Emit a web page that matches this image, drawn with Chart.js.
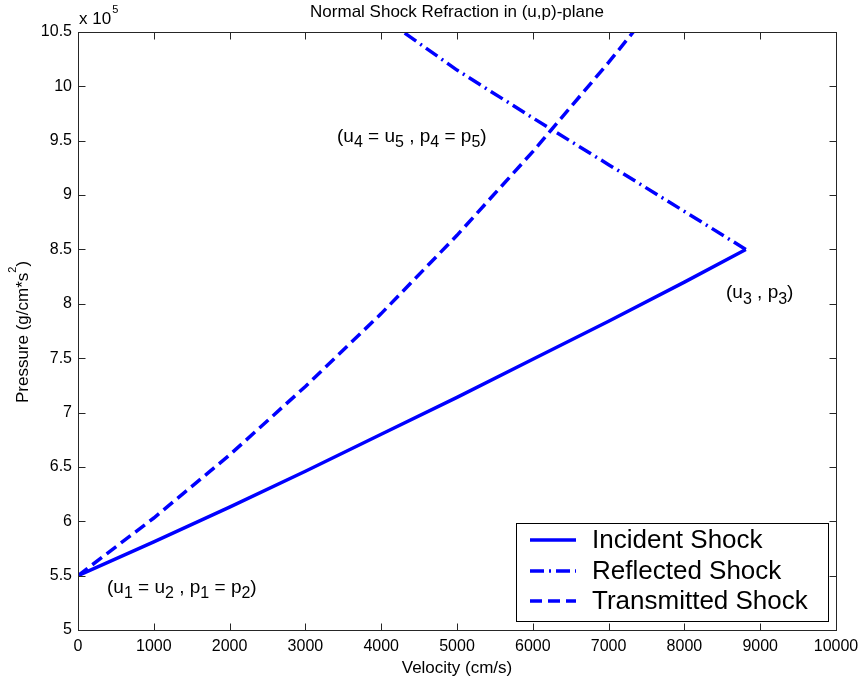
<!DOCTYPE html>
<html lang="en">
<head>
<meta charset="UTF-8">
<title>Normal Shock Refraction in (u,p)-plane</title>
<script src="https://cdn.jsdelivr.net/npm/chart.js"></script>
<style>
  html, body { margin: 0; padding: 0; background: #fff; }
  canvas { display: block; }
</style>
</head>
<body>
<canvas id="chart" width="862" height="683"></canvas>
<script>
  // velocity u (cm/s) and pressure p (x 10^5 g/cm*s^2) along each shock curve
  const incidentU = [0, 1000, 2000, 3000, 4000, 5000, 6000, 7000, 8000, 8810];
  const incidentP = [5.50, 5.81, 6.13, 6.46, 6.80, 7.14, 7.49, 7.84, 8.20, 8.50];

  const reflectedU = [8810, 8000, 7000, 6000, 5000, 4290];
  const reflectedP = [8.50, 8.85, 9.28, 9.71, 10.15, 10.50];

  const transmittedU = [0, 1000, 2000, 3000, 4000, 5000, 6000, 7000, 7325];
  const transmittedP = [5.50, 6.03, 6.61, 7.24, 7.91, 8.63, 9.40, 10.22, 10.50];

  const seriesNames = ['Incident Shock', 'Reflected Shock', 'Transmitted Shock'];

  const xTicks = [0, 1000, 2000, 3000, 4000, 5000, 6000, 7000, 8000, 9000, 10000];
  const yTicks = [5, 5.5, 6, 6.5, 7, 7.5, 8, 8.5, 9, 9.5, 10, 10.5];

  const FONT = '"Liberation Sans", Arial, Helvetica, sans-serif';
  const BLUE = '#0000ff';
  const INK = '#262626';

  const pts = (us, ps) => us.map((u, i) => ({ x: u, y: ps[i] }));

  // state labels, placed at (u, p) of their left end / baseline
  const stateLabels = [
    { u: 383, p: 5.343, parts: [['(u'], ['1', 1], [' = u'], ['2', 1], [' , p'], ['1', 1], [' = p'], ['2', 1], [')']] },
    { u: 3417, p: 9.491, parts: [['(u'], ['4', 1], [' = u'], ['5', 1], [' , p'], ['4', 1], [' = p'], ['5', 1], [')']] },
    { u: 8549, p: 8.051, parts: [['(u'], ['3', 1], [' , p'], ['3', 1], [')']] }
  ];

  function drawSubText(ctx, parts, x, y) {
    parts.forEach(([t, sub]) => {
      ctx.font = (sub ? '16px ' : '19px ') + FONT;
      ctx.fillText(t, x, sub ? y + 5.5 : y);
      x += ctx.measureText(t).width;
    });
  }

  const frame = {
    id: 'frame',
    afterDraw(chart) {
      const { ctx, chartArea: a, scales: { x, y } } = chart;
      const L = Math.round(a.left) + 0.5, R = Math.round(a.right) + 0.5;
      const T = Math.round(a.top) + 0.5, B = Math.round(a.bottom) + 0.5;
      ctx.save();

      // inward tick marks on all four sides
      ctx.strokeStyle = INK;
      ctx.lineWidth = 1;
      ctx.beginPath();
      x.ticks.forEach(t => {
        const px = Math.round(x.getPixelForValue(t.value)) + 0.5;
        ctx.moveTo(px, B); ctx.lineTo(px, B - 7);
        ctx.moveTo(px, T); ctx.lineTo(px, T + 7);
      });
      y.ticks.forEach(t => {
        const py = Math.round(y.getPixelForValue(t.value)) + 0.5;
        ctx.moveTo(L, py); ctx.lineTo(L + 7, py);
        ctx.moveTo(R, py); ctx.lineTo(R - 7, py);
      });
      ctx.stroke();
      ctx.strokeRect(L, T, R - L, B - T);

      // title and axis titles
      ctx.fillStyle = '#000';
      ctx.textBaseline = 'alphabetic';
      ctx.textAlign = 'center';
      ctx.font = '17px ' + FONT;
      const cx = (a.left + a.right) / 2;
      ctx.fillText('Normal Shock Refraction in (u,p)-plane', cx, 17);
      ctx.fillText('Velocity (cm/s)', cx, 673);

      ctx.textAlign = 'left';
      ctx.fillText('x 10', 79, 24);
      const w10 = ctx.measureText('x 10').width;
      ctx.font = '11px ' + FONT;
      ctx.fillText('5', 79 + w10 + 1, 13);

      // rotated y title with superscript
      ctx.save();
      ctx.translate(28, (a.top + a.bottom) / 2 + 1);
      ctx.rotate(-Math.PI / 2);
      const yParts = [['Pressure (g/cm*s', 0], ['2', 1], [')', 0]];
      let total = 0;
      yParts.forEach(([t, sup]) => {
        ctx.font = (sup ? '11px ' : '17px ') + FONT;
        total += ctx.measureText(t).width;
      });
      let px = -total / 2;
      yParts.forEach(([t, sup]) => {
        ctx.font = (sup ? '11px ' : '17px ') + FONT;
        ctx.fillText(t, px, sup ? -12 : 0);
        px += ctx.measureText(t).width;
      });
      ctx.restore();

      // state labels
      stateLabels.forEach(s => {
        drawSubText(ctx, s.parts, x.getPixelForValue(s.u), y.getPixelForValue(s.p));
      });

      // legend box in the lower right corner
      const lx = 516.5, ly = 523.5, lw = 312, lh = 98;
      ctx.fillStyle = '#fff';
      ctx.fillRect(lx, ly, lw, lh);
      ctx.strokeStyle = '#000';
      ctx.lineWidth = 1;
      ctx.strokeRect(lx, ly, lw, lh);
      const rows = [540, 571, 601];
      chart.data.datasets.forEach((ds, i) => {
        ctx.save();
        ctx.strokeStyle = ds.borderColor;
        ctx.lineWidth = ds.borderWidth;
        ctx.setLineDash(ds.borderDash || []);
        ctx.beginPath();
        ctx.moveTo(530, rows[i]);
        ctx.lineTo(576, rows[i]);
        ctx.stroke();
        ctx.restore();
        ctx.fillStyle = '#000';
        ctx.font = '26px ' + FONT;
        ctx.textBaseline = 'middle';
        ctx.fillText(ds.label, 592, rows[i] + 1);
      });

      ctx.restore();
    }
  };

  new Chart(document.getElementById('chart'), {
    type: 'scatter',
    data: {
      datasets: [
        { label: seriesNames[0], data: pts(incidentU, incidentP), borderDash: [] },
        { label: seriesNames[1], data: pts(reflectedU, reflectedP), borderDash: [14, 5, 2, 5] },
        { label: seriesNames[2], data: pts(transmittedU, transmittedP), borderDash: [12, 6] }
      ].map(ds => Object.assign(ds, {
        showLine: true,
        borderColor: BLUE,
        backgroundColor: BLUE,
        borderWidth: 3.5,
        pointRadius: 0,
        tension: 0
      }))
    },
    options: {
      responsive: false,
      animation: false,
      layout: { padding: { top: 32, right: 26, left: 0, bottom: 0 } },
      plugins: {
        legend: { display: false },
        title: { display: false },
        tooltip: { enabled: false }
      },
      scales: {
        x: {
          type: 'linear',
          min: xTicks[0],
          max: xTicks[xTicks.length - 1],
          afterBuildTicks: s => { s.ticks = xTicks.map(v => ({ value: v })); },
          // keep the end labels from pushing the plot edges inward
          afterFit: s => { s.height = 53; s.paddingLeft = 0; s.paddingRight = 0; },
          grid: { display: false, drawTicks: false },
          border: { display: false },
          ticks: {
            color: '#000',
            font: { family: FONT, size: 16 },
            padding: 7,
            maxRotation: 0,
            autoSkip: false,
            callback: v => String(v)
          }
        },
        y: {
          type: 'linear',
          min: yTicks[0],
          max: yTicks[yTicks.length - 1],
          afterBuildTicks: s => { s.ticks = yTicks.map(v => ({ value: v })); },
          afterFit: s => { s.width = 78; s.paddingTop = 0; s.paddingBottom = 0; },
          grid: { display: false, drawTicks: false },
          border: { display: false },
          ticks: {
            color: '#000',
            font: { family: FONT, size: 16 },
            padding: 6,
            autoSkip: false,
            callback: v => String(v)
          }
        }
      }
    },
    plugins: [frame]
  });
</script>
</body>
</html>
